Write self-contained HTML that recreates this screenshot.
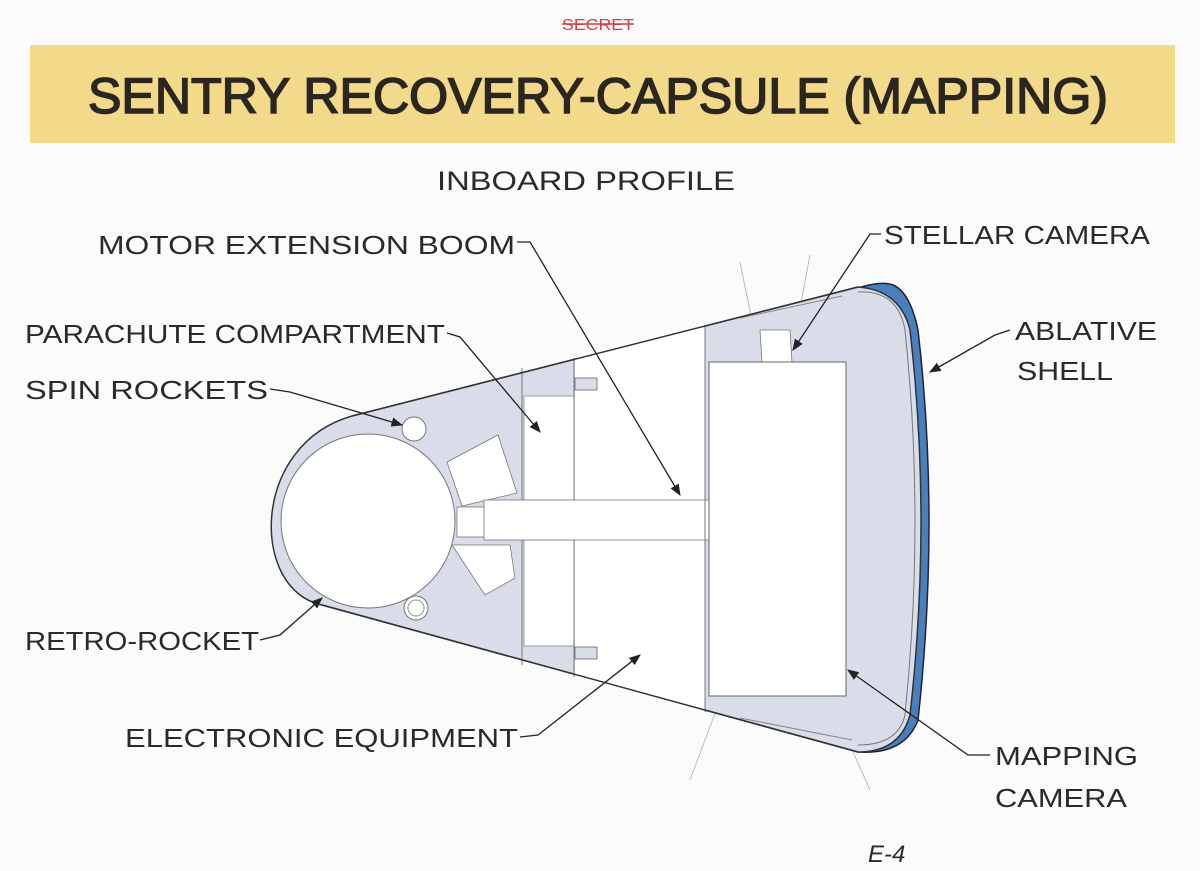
<!DOCTYPE html>
<html><head><meta charset="utf-8"><style>
html,body{margin:0;padding:0;background:#fbfbfc;}
svg{display:block;}
text{font-family:"Liberation Sans","DejaVu Sans",sans-serif;fill:#2a2a2a;}
</style></head><body>
<svg width="1200" height="871" viewBox="0 0 1200 871" xmlns="http://www.w3.org/2000/svg">
<defs><marker id="ar" viewBox="0 0 10 10" refX="9" refY="5" markerWidth="9" markerHeight="9" orient="auto"><path d="M0,1 L10,5 L0,9 z" fill="#222"/></marker></defs>
<rect width="1200" height="871" fill="#fbfbfc"/>
<text x="598" y="30" font-size="16" text-anchor="middle" style="fill:#d04040" textLength="72" lengthAdjust="spacingAndGlyphs">SECRET</text>
<line x1="562" y1="24" x2="634" y2="24" stroke="#d04040" stroke-width="1.5"/>
<rect x="30" y="45" width="1145" height="98" fill="#f3d98a"/>
<text x="598" y="113" font-size="50" text-anchor="middle" textLength="1020" lengthAdjust="spacingAndGlyphs" style="fill:#2b2620;stroke:#2b2620;stroke-width:1.6">SENTRY RECOVERY-CAPSULE (MAPPING)</text>
<text x="586" y="190" font-size="27" text-anchor="middle" textLength="298" lengthAdjust="spacingAndGlyphs">INBOARD PROFILE</text>

<line x1="740" y1="262" x2="760" y2="360" stroke="#bbb" stroke-width="1"/>
<line x1="810" y1="255" x2="790" y2="360" stroke="#bbb" stroke-width="1"/>
<line x1="720" y1="700" x2="690" y2="780" stroke="#bbb" stroke-width="1"/>
<line x1="830" y1="700" x2="870" y2="790" stroke="#bbb" stroke-width="1"/>

<path d="M852,290 Q880,280 893,285 Q910,292 918,330 Q940,520 918,720 Q905,755 858,752 Z" fill="#4a7fbe" stroke="#223" stroke-width="1.5"/>
<path d="M858,287 L352,416 C250,445 250,590 322,605 L858,752 Q900,752 910,715 Q932,520 910,330 Q900,290 858,287 Z" fill="#d8dde9" stroke="#333" stroke-width="1.5"/>
<path d="M575,358 L705,325 L705,712 L575,677 Z" fill="#fff"/>
<rect x="575" y="378" width="22" height="12" fill="#d8dde9" stroke="#666" stroke-width="0.8"/>
<rect x="575" y="647" width="22" height="12" fill="#d8dde9" stroke="#666" stroke-width="0.8"/>
<rect x="524" y="396" width="50" height="104" fill="#fff" stroke="#888" stroke-width="0.8"/>
<rect x="524" y="540" width="50" height="106" fill="#fff" stroke="#888" stroke-width="0.8"/>
<line x1="522" y1="368" x2="522" y2="665" stroke="#777" stroke-width="1"/>
<line x1="574" y1="358" x2="574" y2="677" stroke="#777" stroke-width="1"/>
<circle cx="368" cy="521" r="87" fill="#fff" stroke="#777" stroke-width="1"/>
<polygon points="447,462 498,435 517,493 462,506" fill="#fff" stroke="#777" stroke-width="0.8"/>
<polygon points="452,545 510,545 515,578 485,595" fill="#fff" stroke="#777" stroke-width="0.8"/>
<rect x="457" y="507" width="28" height="30" fill="#fff" stroke="#777" stroke-width="0.8"/>
<circle cx="414" cy="429" r="12" fill="#fff" stroke="#777"/>
<circle cx="416" cy="608" r="12" fill="#fff" stroke="#777"/>
<circle cx="416" cy="608" r="8" fill="none" stroke="#999"/>
<rect x="484" y="500" width="225" height="40" fill="#fff" stroke="#777" stroke-width="0.8"/>
<line x1="705" y1="325" x2="705" y2="712" stroke="#777" stroke-width="1"/>
<polygon points="760,330 790,330 792,362 762,362" fill="#fff" stroke="#777" stroke-width="0.8"/>
<rect x="709" y="362" width="137" height="334" fill="#fff" stroke="#666" stroke-width="1"/>
<line x1="740" y1="318" x2="842" y2="296" stroke="#888"/>
<line x1="740" y1="718" x2="852" y2="740" stroke="#888"/>
<path d="M858,292 Q898,290 905,330 Q925,520 905,715 Q898,745 858,745" fill="none" stroke="#777" stroke-width="1"/>
<line x1="858" y1="287" x2="352" y2="416" stroke="#333" stroke-width="1.5"/>
<line x1="858" y1="752" x2="322" y2="605" stroke="#333" stroke-width="1.5"/>

<g font-size="26">
<text x="98" y="254" textLength="417" lengthAdjust="spacingAndGlyphs">MOTOR EXTENSION BOOM</text>
<text x="884" y="244" textLength="266" lengthAdjust="spacingAndGlyphs">STELLAR CAMERA</text>
<text x="25" y="343" textLength="420" lengthAdjust="spacingAndGlyphs">PARACHUTE COMPARTMENT</text>
<text x="1015" y="340" textLength="142" lengthAdjust="spacingAndGlyphs">ABLATIVE</text>
<text x="1017" y="380" textLength="96" lengthAdjust="spacingAndGlyphs">SHELL</text>
<text x="25" y="399" textLength="243" lengthAdjust="spacingAndGlyphs">SPIN ROCKETS</text>
<text x="25" y="650" textLength="234" lengthAdjust="spacingAndGlyphs">RETRO-ROCKET</text>
<text x="125" y="747" textLength="393" lengthAdjust="spacingAndGlyphs">ELECTRONIC EQUIPMENT</text>
<text x="995" y="765" textLength="143" lengthAdjust="spacingAndGlyphs">MAPPING</text>
<text x="995" y="807" textLength="132" lengthAdjust="spacingAndGlyphs">CAMERA</text>
</g>
<text x="868" y="862" font-size="24" font-style="italic">E-4</text>

<g fill="none" stroke="#222" stroke-width="1.3">
<polyline points="517,242 530,242 680,495" marker-end="url(#ar)"/>
<polyline points="881,234 870,234 793,350" marker-end="url(#ar)"/>
<polyline points="447,333 460,337 540,432" marker-end="url(#ar)"/>
<polyline points="1010,330 995,335 930,372" marker-end="url(#ar)"/>
<polyline points="270,389 290,392 402,425" marker-end="url(#ar)"/>
<polyline points="260,640 280,635 322,598" marker-end="url(#ar)"/>
<polyline points="520,737 538,735 640,655" marker-end="url(#ar)"/>
<polyline points="990,755 968,755 848,670" marker-end="url(#ar)"/>
</g>
</svg>
</body></html>
